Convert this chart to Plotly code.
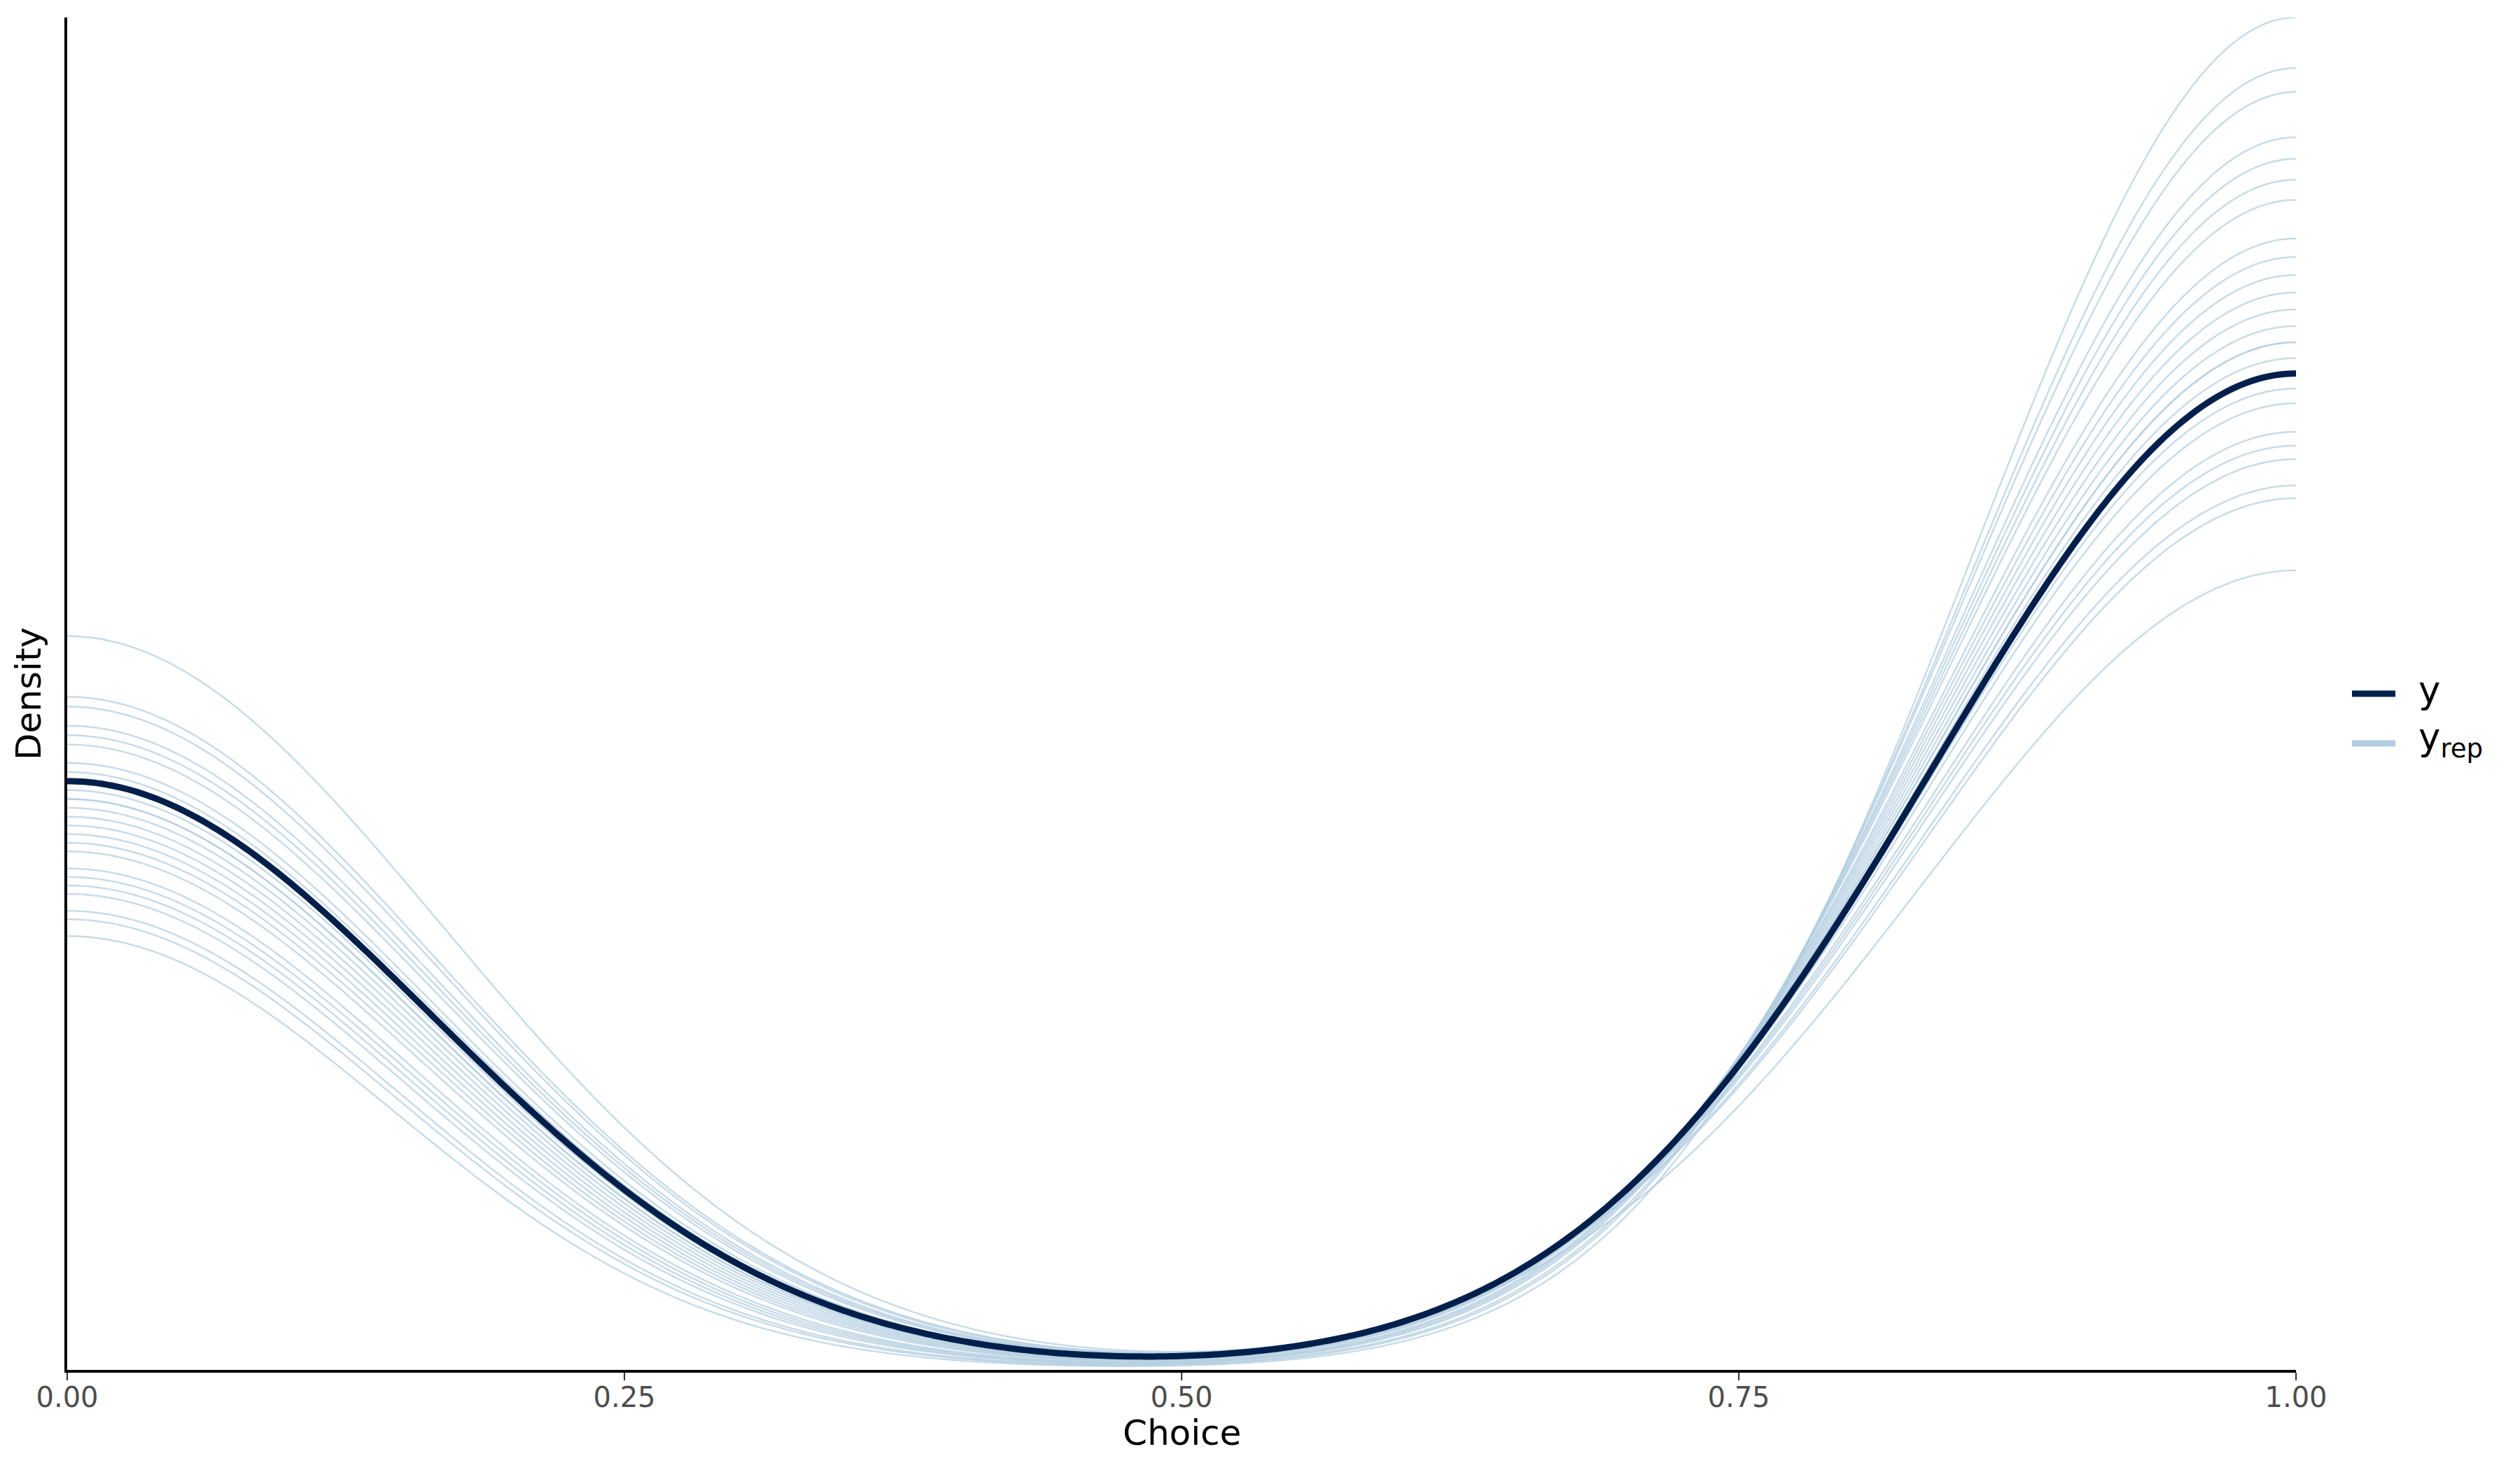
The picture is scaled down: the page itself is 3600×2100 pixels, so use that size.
import numpy as np
import plotly.graph_objects as go

# ---- data (binary "Choice" outcomes: number of ones out of N_OBS) ----
N_OBS = 140
Y_ONES = 88
YREP_ONES = [106, 104, 103, 101, 100, 99, 98, 96, 95, 94, 93, 92,
             91, 90, 90, 89, 87, 86, 84, 83, 82, 80, 79, 73]
X_TICKS = [0.0, 0.25, 0.5, 0.75, 1.0]
X_TICK_LABELS = ["0.00", "0.25", "0.50", "0.75", "1.00"]

Y_COLOR = "#011f4b"
YREP_COLOR = "rgba(179,205,224,0.75)"
YREP_KEY_COLOR = "#b3cde0"


def kde_binary(n, k, grid):
    """Gaussian KDE (bw.nrd0) of a sample with n-k zeros and k ones."""
    sample = np.r_[np.zeros(n - k), np.ones(k)]
    sd = sample.std(ddof=1)
    q1, q3 = np.percentile(sample, [25, 75])
    lo = min(sd, (q3 - q1) / 1.349)
    if lo == 0:
        lo = sd
    bw = 0.9 * lo * n ** -0.2
    z = (grid[:, None] - sample[None, :]) / bw
    return np.exp(-0.5 * z ** 2).sum(axis=1) / (n * bw * np.sqrt(2 * np.pi))


grid = np.linspace(0, 1, 512)
y_dens = kde_binary(N_OBS, Y_ONES, grid)
yrep_dens = [kde_binary(N_OBS, k, grid) for k in YREP_ONES]
ymax = max(d.max() for d in yrep_dens + [y_dens])

fig = go.Figure()
for d in yrep_dens:
    fig.add_trace(go.Scatter(x=grid, y=d, mode="lines",
                             line=dict(color=YREP_COLOR, width=2.4, simplify=False),
                             showlegend=False, hoverinfo="skip"))
fig.add_trace(go.Scatter(x=grid, y=y_dens, mode="lines",
                         line=dict(color=Y_COLOR, width=9, simplify=False),
                         showlegend=False, hoverinfo="skip"))

W, H = 3600, 2100
OFF = 8                      # page body margin of the html
PANEL_L, PANEL_T = 96, 25    # panel position on the page
PW, PH = 3184, 1932
L, T = PANEL_L - OFF, PANEL_T - OFF
R, B = W - L - PW, H - T - PH
FONT = "DejaVu Sans"

fig.update_layout(
    width=W, height=H, autosize=False,
    margin=dict(l=L, r=R, t=T, b=B, pad=0),
    paper_bgcolor="white", plot_bgcolor="white",
    font=dict(family=FONT, color="black"),
    showlegend=False,
)
fig.update_xaxes(range=[0, 1], tickvals=X_TICKS, ticktext=X_TICK_LABELS,
                 ticks="outside", ticklen=11, tickwidth=2, tickcolor="#333333",
                 tickfont=dict(size=40, color="#4D4D4D", family=FONT),
                 ticklabelstandoff=-10,
                 showline=True, linecolor="black", linewidth=4,
                 showgrid=False, zeroline=False)
fig.update_yaxes(range=[0, ymax], showticklabels=False, ticks="",
                 showline=True, linecolor="black", linewidth=4,
                 showgrid=False, zeroline=False)

# axis titles
fig.add_annotation(text="Choice", xref="paper", yref="paper", x=0.5, y=0,
                   yshift=-90, xanchor="center", yanchor="middle",
                   showarrow=False, font=dict(size=50, color="black", family=FONT))
fig.add_annotation(text="Density", xref="paper", yref="paper", x=0, y=0.5,
                   xshift=-55, textangle=-90, xanchor="center", yanchor="middle",
                   showarrow=False, font=dict(size=50, color="black", family=FONT))

# legend (keys + labels), positions given in page pixels
def px_x(p):
    return (p - PANEL_L) / PW

def px_y(p):
    return (PANEL_T + PH - p) / PH

for ypix, col, label in [(991, Y_COLOR, "y"), (1062, YREP_KEY_COLOR, "y<sub>rep</sub>")]:
    fig.add_shape(type="line", xref="paper", yref="paper",
                  x0=px_x(3360), x1=px_x(3422), y0=px_y(ypix), y1=px_y(ypix),
                  line=dict(color=col, width=9))
    fig.add_annotation(text=label, xref="paper", yref="paper",
                       x=px_x(3453), y=px_y(ypix), yshift=6,
                       xanchor="left", yanchor="middle",
                       showarrow=False, font=dict(size=53, color="black", family=FONT))

fig.write_html("out.html")
